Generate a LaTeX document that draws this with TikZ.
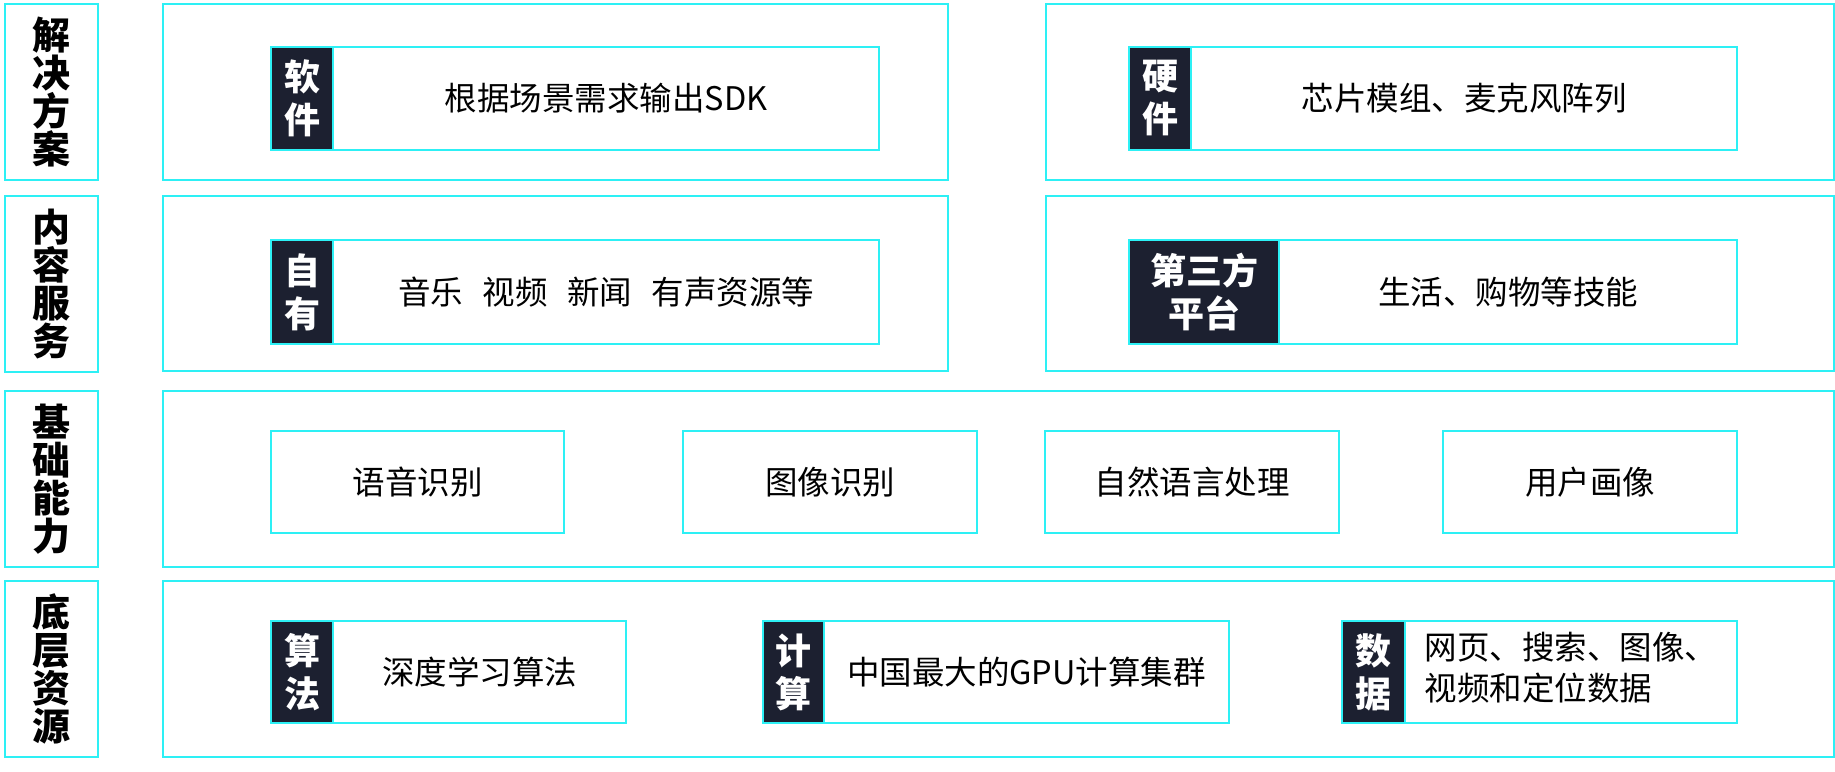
\documentclass[tikz,border=0pt]{standalone}
\usepackage{fontspec}
\setmainfont{Noto Sans CJK SC}
\usetikzlibrary{
    positioning
}
\definecolor{linecyan}{RGB}{45,240,245}
\definecolor{tagdark}{RGB}{28,32,48}

\tikzset{
    frame/.style={draw=linecyan, line width=2pt, inner sep=0pt, outer sep=0pt, anchor=north west},
    sidelabel/.style={frame, minimum width=93, minimum height=176, align=center,
        font=\fontsize{38}{38}\selectfont\bfseries},
    panel/.style={frame, minimum height=176},
    tagbox/.style={frame, fill=tagdark, text=white, align=center, minimum width=62,
        font=\fontsize{36}{43}\selectfont\bfseries},
    itembox/.style={frame, align=center, font=\fontsize{32.5}{41}\selectfont}
}

\begin{document}
\begin{tikzpicture}[x=1pt, y=-1pt]
      \useasboundingbox (0, 0) rectangle (1835, 771);

      % side labels
      \node[sidelabel] (solution) at (5, 4) {解\\决\\方\\案};
      \node[sidelabel] (content) at (5, 196) {内\\容\\服\\务};
      \node[sidelabel] (ability) at (5, 391) {基\\础\\能\\力};
      \node[sidelabel] (resource) at (5, 581) {底\\层\\资\\源};

      % panels
      \node[panel, minimum width=785] (p1l) at (163, 4) {};
      \node[panel, minimum width=788] (p1r) at (1046, 4) {};
      \node[panel, minimum width=785, minimum height=175] (p2l) at (163, 196) {};
      \node[panel, minimum width=788, minimum height=175] (p2r) at (1046, 196) {};
      \node[panel, minimum width=1671] (p3) at (163, 391) {};
      \node[panel, minimum width=1671] (p4) at (163, 581) {};

      % solution row
      \node[tagbox, minimum height=103] (softtag) at (271, 47) {软\\件};
      \node[itembox, minimum width=546, minimum height=103, right=0pt of softtag] (soft) {根据场景需求输出SDK};
      \node[tagbox, minimum height=103] (hardtag) at (1129, 47) {硬\\件};
      \node[itembox, minimum width=546, minimum height=103, right=0pt of hardtag] (hard) {芯片模组、麦克风阵列};

      % content row
      \node[tagbox, minimum height=104] (owntag) at (271, 240) {自\\有};
      \node[itembox, minimum width=546, minimum height=104, right=0pt of owntag] (own)
          {音乐\hspace{0.6em}视频\hspace{0.6em}新闻\hspace{0.6em}有声资源等};
      \node[tagbox, minimum width=150, minimum height=104] (thirdtag) at (1129, 240) {第三方\\平台};
      \node[itembox, minimum width=458, minimum height=104, right=0pt of thirdtag] (third) {生活、购物等技能};

      % ability row
      \node[itembox, minimum width=293, minimum height=102] (speech) at (271, 431) {语音识别};
      \node[itembox, minimum width=294, minimum height=102] (image) at (683, 431) {图像识别};
      \node[itembox, minimum width=294, minimum height=102] (nlp) at (1045, 431) {自然语言处理};
      \node[itembox, minimum width=294, minimum height=102] (profile) at (1443, 431) {用户画像};

      % resource row
      \node[tagbox, minimum height=102] (algotag) at (271, 621) {算\\法};
      \node[itembox, minimum width=293, minimum height=102, right=0pt of algotag] (algo) {深度学习算法};
      \node[tagbox, minimum width=61, minimum height=102] (computetag) at (763, 621) {计\\算};
      \node[itembox, minimum width=405, minimum height=102, right=0pt of computetag] (compute) {中国最大的GPU计算集群};
      \node[tagbox, minimum width=63, minimum height=102] (datatag) at (1342, 621) {数\\据};
      \node[itembox, minimum width=332, minimum height=102, right=0pt of datatag] (data)
          {\begin{tabular}{@{}l@{}}网页、搜索、图像、\\视频和定位数据\end{tabular}};
\end{tikzpicture}
\end{document}
